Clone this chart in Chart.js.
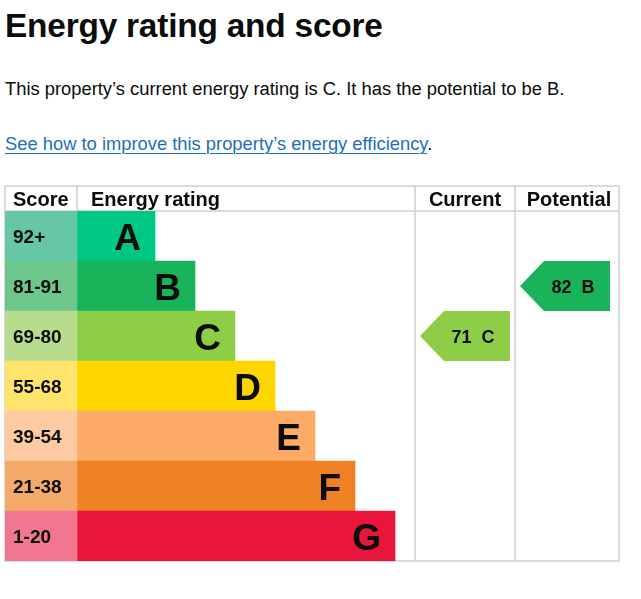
<!DOCTYPE html>
<html>
<head>
<meta charset="utf-8">
<script src="https://cdn.jsdelivr.net/npm/chart.js@4"></script>
<style>
  html, body { margin: 0; padding: 0; background: #fff; width: 641px; height: 599px; overflow: hidden; }
  body { position: relative; font-family: "Liberation Sans", Arial, sans-serif; color: #0b0c0c; }
  h1 { position: absolute; left: 5px; top: 6px; margin: 0; font-size: 33.4px; font-weight: bold; line-height: 40px; letter-spacing: -0.2px; }
  p.lead { position: absolute; left: 5px; top: 77px; margin: 0; font-size: 18.35px; line-height: 24px; }
  p.link { position: absolute; left: 5px; top: 132px; margin: 0; font-size: 18.35px; line-height: 24px; }
  p.link a { color: #1d70b8; text-decoration: underline; text-underline-offset: 3px; text-decoration-thickness: 1px; }
  #wrap { position: absolute; left: 0; top: 180px; width: 641px; height: 400px; }
</style>
</head>
<body>
<h1>Energy rating and score</h1>
<p class="lead">This property’s current energy rating is C. It has the potential to be B.</p>
<p class="link"><a href="#">See how to improve this property’s energy efficiency</a>.</p>
<div id="wrap"><canvas id="c" width="641" height="400"></canvas></div>
<script>
// ---- data ----
const bands = ['A', 'B', 'C', 'D', 'E', 'F', 'G'];
const scoreRanges = ['92+', '81-91', '69-80', '55-68', '39-54', '21-38', '1-20'];
const bandColors = ['#00c781', '#19b459', '#8dce46', '#ffd500', '#fcaa65', '#ef8023', '#e9153b'];
const scoreColors = ['#66c7a6', '#6dc68c', '#b7dc8c', '#ffe46c', '#fdcaa1', '#f5aa6a', '#f0778f'];
const columnHeaders = ['Score', 'Energy rating', 'Current', 'Potential'];
// x units (1 unit = one band step)
const scoreCol = [0, 1.8];
const bandBarEnds = [3.75, 4.75, 5.75, 6.75, 7.75, 8.75, 9.75];
const currentCol = [10.25, 12.75];
const potentialCol = [12.75, 15.35];
const currentScore = 71, currentBand = 'C';
const potentialScore = 82, potentialBand = 'B';
const currentArrow = [10.375, 12.625];
const potentialArrow = [12.875, 15.125];

const ink = '#0b0c0c';
const lineColor = '#cfd0d1';

const scoreData = bands.map(() => scoreCol.slice());
const bandData = bands.map((b, i) => [scoreCol[1], bandBarEnds[i]]);
const currentData = bands.map(b => b === currentBand ? currentArrow.slice() : null);
const potentialData = bands.map(b => b === potentialBand ? potentialArrow.slice() : null);

const epcPlugin = {
  id: 'epc',
  beforeDatasetsDraw(chart) {
    const ctx = chart.ctx, a = chart.chartArea, xs = chart.scales.x;
    const headerTop = a.top - 25;
    ctx.save();
    ctx.strokeStyle = lineColor;
    ctx.lineWidth = 1.5;
    ctx.strokeRect(a.left, headerTop, a.right - a.left, a.bottom - headerTop);
    ctx.beginPath();
    ctx.moveTo(a.left, a.top); ctx.lineTo(a.right, a.top);
    const xScore = xs.getPixelForValue(scoreCol[1]);
    ctx.moveTo(xScore, headerTop); ctx.lineTo(xScore, a.top);
    const xc = xs.getPixelForValue(currentCol[0]);
    const xp = xs.getPixelForValue(potentialCol[0]);
    ctx.moveTo(xc, headerTop); ctx.lineTo(xc, a.bottom);
    ctx.moveTo(xp, headerTop); ctx.lineTo(xp, a.bottom);
    ctx.stroke();
    ctx.fillStyle = ink;
    ctx.font = 'bold 20px "Liberation Sans", Arial, sans-serif';
    ctx.textBaseline = 'alphabetic';
    const hy = a.top - 5;
    ctx.textAlign = 'left';
    ctx.fillText(columnHeaders[0], a.left + 8, hy);
    ctx.fillText(columnHeaders[1], xScore + 14, hy);
    ctx.textAlign = 'center';
    ctx.fillText(columnHeaders[2], (xc + xp) / 2, hy);
    ctx.fillText(columnHeaders[3], (xp + xs.getPixelForValue(potentialCol[1])) / 2 + 2, hy);
    ctx.restore();
  },
  afterDatasetsDraw(chart) {
    const ctx = chart.ctx;
    ctx.save();
    const m0 = chart.getDatasetMeta(0);
    ctx.fillStyle = ink;
    ctx.textAlign = 'left';
    ctx.font = 'bold 19px "Liberation Sans", Arial, sans-serif';
    m0.data.forEach((el, i) => {
      ctx.fillText(scoreRanges[i], el.base + 8, el.y + 6.5);
    });
    const m1 = chart.getDatasetMeta(1);
    ctx.textAlign = 'right';
    ctx.font = 'bold 37px "Liberation Sans", Arial, sans-serif';
    m1.data.forEach((el, i) => {
      ctx.fillText(bands[i], el.x - 14, el.y + 13.5);
    });
    [[2, currentScore, currentBand], [3, potentialScore, potentialBand]].forEach(([di, score, band]) => {
      const meta = chart.getDatasetMeta(di);
      meta.data.forEach((el, i) => {
        if (chart.data.datasets[di].data[i] == null) return;
        const top = el.y - el.height / 2, bot = el.y + el.height / 2;
        const tip = 24;
        ctx.fillStyle = bandColors[bands.indexOf(band)];
        ctx.beginPath();
        ctx.moveTo(el.base, el.y);
        ctx.lineTo(el.base + tip, top);
        ctx.lineTo(el.x, top);
        ctx.lineTo(el.x, bot);
        ctx.lineTo(el.base + tip, bot);
        ctx.closePath();
        ctx.fill();
        ctx.fillStyle = ink;
        ctx.textAlign = 'center';
        ctx.font = 'bold 18px "Liberation Sans", Arial, sans-serif';
        ctx.fillText(score + '  ' + band, (el.base + tip + el.x) / 2 - 4, el.y + 6.5);
      });
    });
    ctx.restore();
  }
};

new Chart(document.getElementById('c'), {
  type: 'bar',
  data: {
    labels: bands,
    datasets: [
      { label: 'Score', data: scoreData, backgroundColor: scoreColors, grouped: false, barPercentage: 1, categoryPercentage: 1 },
      { label: 'Energy rating', data: bandData, backgroundColor: bandColors, grouped: false, barPercentage: 1, categoryPercentage: 1 },
      { label: 'Current', data: currentData, backgroundColor: 'rgba(0,0,0,0)', grouped: false, barPercentage: 1, categoryPercentage: 1 },
      { label: 'Potential', data: potentialData, backgroundColor: 'rgba(0,0,0,0)', grouped: false, barPercentage: 1, categoryPercentage: 1 }
    ]
  },
  options: {
    indexAxis: 'y',
    responsive: false,
    animation: false,
    devicePixelRatio: 1,
    layout: { padding: { left: 5, right: 22, top: 31, bottom: 19 } },
    scales: {
      x: { type: 'linear', display: false, min: scoreCol[0], max: potentialCol[1] },
      y: { type: 'category', display: false }
    },
    plugins: { legend: { display: false }, tooltip: { enabled: false } }
  },
  plugins: [epcPlugin]
});
</script>
</body>
</html>
